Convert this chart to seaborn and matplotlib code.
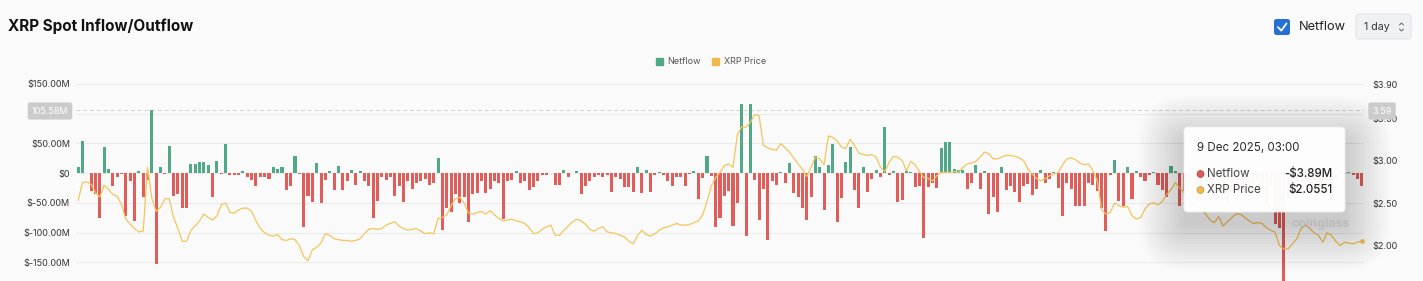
import numpy as np
import pandas as pd
import matplotlib
matplotlib.use("Agg")
import matplotlib.pyplot as plt
from matplotlib.patches import FancyBboxPatch, Patch, Circle
import seaborn as sns

# ---------------- data ----------------
netflow = [
    # 0-59
    9.6, 54, 1, -30, -35, -75, 44, 7, -21, -7, -2, -72, -14, -80, 3, -41, -12, 105.58, -153, 10,
    -2, 46, -38, -35, -58, -59, 16, 16, 18, 19, 14, -40, 20, -2, 49, -4, -3, -4, 3, -6,
    -12, -21, -6, -6, -10, 10, 7, 10, -29, -21, 28, -2, -90, -38, -48, 17, -51, -12, 4, -28,
    # 60-119
    12, -28, -14, 5, -20, 4, -14, -22, -75,
    -47, -6, -12, -6, -38, -21, -48, -14, -26, -17, -14, -10, -20, -16,
    26,
    -96, -58, -66, -35, -51, -41, -83, -35, -34, -14, -34, -26, -14, -17,
    -78,
    -14, -12, 3, -16, -14, -28, -24, -14, -4, -3, 0.5, -20, -20, 5, -6, 0, 3, -35, -21, -14, -6,
    # 120-155
    -3, -6, -3, -31, -6, -10, -24, -24, -31, 11, -34, 5, -31, -3, 2, -4, -14, -22, -6, -6,
    -21, -2, 3, -43, -8, 28, -5, -90, -76, -38, -30, -89, -51, 117, -106, 116,
    # 156-178
    -12, -79, -27, -112, -13, -20, 2, -17, 17, -34, -41, -58, -79, -41, 28, 11, -62, 13, 49, -83,
    -42, 19, 44,
    # 179-239
    -28, -59, 10, -31, -10, 6, -7, 77, -4, 4, -49, -46, 3, 2, -24, -22, -110, -23, -17, -25,
    42, 53, 53, 7, 6, 5, -27, -17, 13, -27, 3, -68, -40, -66, 10, -28, -22, -31, -48, -21,
    -19, -37, -27, 5, -16, -10, 2, -25, -72, -16, -27, -56, -56, -55, -17, -20, -30, -58, -97, -4,
    22,
    # 240-254
    -47, -55, 11, -44, 4, -6, -14, -3, 2, -20, -29, -40, 12, 3, -55,
    # 255-291 (mostly under the tooltip)
    -30, -12, 8, -45, -20, -8, -35, -15, 5, -25, -50, -18, -10, 6, -28, -40, -22, -12, -30, -55,
    -20, -85, -92, -210, -40, -15, -30, -8, 4, -20, -12, -35, -18, -6, -25, -10, 3,
    # 292-296
    -2, 2, -4, -10, -21,
]

price = [
    2.53, 2.74, 2.75, 2.72, 2.62, 2.57, 2.71, 2.66, 2.60, 2.58,
    2.48, 2.31, 2.25, 2.20, 2.16, 2.17, 2.92, 2.55, 2.40, 2.45,
    2.55, 2.55, 2.33, 2.20, 2.05, 2.05, 2.18, 2.23, 2.29, 2.37,
    2.33, 2.30, 2.35, 2.48, 2.50, 2.39, 2.38, 2.42, 2.44, 2.44,
    2.40, 2.29, 2.20, 2.15, 2.12, 2.11, 2.13, 2.07, 2.06, 2.08,
    2.07, 2.00, 1.87, 1.82, 1.95, 1.98, 2.03, 2.14, 2.12, 2.08,
    2.07, 2.06, 2.06, 2.05, 2.06, 2.08, 2.14, 2.19, 2.20, 2.19,
    2.20, 2.24, 2.26, 2.28, 2.23, 2.20, 2.18, 2.19, 2.20, 2.17,
    2.14, 2.15, 2.14, 2.32, 2.33, 2.36, 2.47, 2.55, 2.57, 2.50,
    2.38, 2.37, 2.39, 2.40, 2.37, 2.41, 2.36, 2.32, 2.29, 2.30,
    2.31, 2.29, 2.28, 2.26, 2.21, 2.14, 2.15, 2.19, 2.22, 2.24,
    2.12, 2.12, 2.18, 2.23, 2.28, 2.31, 2.29, 2.25, 2.19, 2.17,
    2.20, 2.22, 2.16, 2.15, 2.14, 2.12, 2.10, 2.05, 2.02, 2.12,
    2.18, 2.13, 2.11, 2.14, 2.18, 2.21, 2.22, 2.24, 2.26, 2.24,
    2.24, 2.25, 2.27, 2.29, 2.36, 2.52, 2.70, 2.80, 2.86, 2.94,
    2.96, 2.92, 3.30, 3.40, 3.39, 3.45, 3.54, 3.53, 3.18, 3.15,
    3.13, 3.12, 3.20, 3.15, 3.10, 3.03, 2.96, 2.90, 2.81, 2.92,
    3.04, 3.02, 2.95, 3.29, 3.27, 3.23, 3.16, 3.14, 3.25, 3.18,
    3.09, 3.07, 3.06, 3.07, 3.04, 2.92, 2.87, 2.98, 3.05, 3.04,
    3.00, 2.88, 2.99, 2.95, 2.87, 2.80, 2.79, 2.76, 2.82, 2.86,
    2.86, 2.86, 2.87, 2.86, 2.92, 2.96, 2.97, 2.99, 3.04, 3.10,
    3.08, 3.02, 3.02, 3.04, 3.06, 3.06, 3.05, 3.03, 3.00, 2.90,
    2.84, 2.79, 2.76, 2.79, 2.82, 2.84, 2.86, 2.95, 3.02, 3.03,
    3.01, 2.97, 2.95, 2.96, 2.88, 2.76, 2.42, 2.37, 2.39, 2.50,
    2.47, 2.45, 2.46, 2.35, 2.31, 2.33, 2.43, 2.49, 2.50, 2.48,
    2.52, 2.60, 2.66, 2.74, 2.68, 2.62, 2.55, 2.50, 2.46, 2.42,
    2.37, 2.30, 2.27, 2.34, 2.23, 2.28, 2.33, 2.37, 2.37, 2.33,
    2.29, 2.26, 2.27, 2.26, 2.21, 2.18, 2.16, 2.00, 1.96, 1.96,
    2.02, 2.08, 2.20, 2.24, 2.20, 2.15, 2.12, 2.04, 2.15, 2.12,
    2.05, 2.00, 2.04, 2.03, 2.02, 2.04, 2.05,
]

left_ticks = [-150, -100, -50, 0, 50, 100, 150]
# the $100.00M label sits under the crosshair badge in the reference, so it is left blank
left_labels = ["$-150.00M", "$-100.00M", "$-50.00M", "$0", "$50.00M", "", "$150.00M"]
right_ticks = [2.00, 2.50, 3.00, 3.50, 3.90]
right_labels = ["$2.00", "$2.50", "$3.00", "$3.50", "$3.90"]

crosshair_flow = 105.58
crosshair_price = 3.59
tooltip_date = "9 Dec 2025, 03:00"
tooltip_flow = "-$3.89M"
tooltip_price = "$2.0551"

# ---------------- style ----------------
GREEN = "#4fa886"
RED = "#e15d5a"
YELLOW = "#f3c55a"
YELLOW_LEG = "#efb94c"
BG = "#fafafa"

sns.set_style("white")
plt.rcParams["font.family"] = ["Inter", "DejaVu Sans"]

W, H = 1423, 281
fig = plt.figure(figsize=(W / 100, H / 100), dpi=100, facecolor=BG)

ax = fig.add_axes([76 / W, 0, 1288 / W, 197 / H])
ax.set_facecolor(BG)

df = pd.DataFrame({"day": np.arange(len(netflow)), "netflow": netflow, "price": price})
df["dir"] = np.where(df["netflow"] >= 0, "in", "out")

sns.barplot(data=df, x="day", y="netflow", hue="dir", palette={"in": GREEN, "out": RED},
            dodge=False, native_scale=True, width=0.7, errorbar=None, legend=False,
            saturation=1, linewidth=0, ax=ax)

ax.set_xlim(-0.5, len(netflow) - 0.5)
ax.set_ylim(-181.6, 150)
ax.set_yticks(left_ticks)
ax.set_yticklabels(left_labels)
ax.set_xticks([])
ax.set_xlabel("")
ax.set_ylabel("")
ax.tick_params(axis="y", length=0, pad=4.3, labelsize=6.5, labelcolor="#333333")
ax.grid(axis="y", color="#ebebeb", linewidth=0.8)
ax.grid(axis="x", visible=False)
ax.set_axisbelow(True)
for s in ax.spines.values():
    s.set_visible(False)

ax2 = ax.twinx()
sns.lineplot(data=df, x="day", y="price", color=YELLOW, linewidth=0.9, ax=ax2)
ax2.scatter([df["day"].iloc[-1]], [df["price"].iloc[-1]], s=6, color=YELLOW, zorder=5)
ax2.set_ylim(1.583, 3.90)
ax2.set_yticks(right_ticks)
ax2.set_yticklabels(right_labels)
ax2.set_xlabel("")
ax2.set_ylabel("")
ax2.tick_params(axis="y", length=0, pad=5.8, labelsize=6.5, labelcolor="#333333")
for s in ax2.spines.values():
    s.set_visible(False)

# crosshair
ax.axhline(crosshair_flow, color="#cfcfcf", linewidth=0.7, linestyle=(0, (4, 3)), zorder=0.5)
ax.axvline(len(netflow) - 0.6, color="#cfcfcf", linewidth=0.7, linestyle=(0, (4, 3)), zorder=0.5)

# legend
fig.legend(handles=[Patch(color=GREEN, label="Netflow"), Patch(color=YELLOW_LEG, label="XRP Price")],
           loc="center", bbox_to_anchor=(711 / W, 1 - 62 / H), ncol=2, frameon=False,
           fontsize=6.5, handlelength=0.75, handleheight=0.9, handletextpad=0.5,
           columnspacing=1.3, labelcolor="#555555")

# ---------------- overlay (UI decorations) ----------------
ov = fig.add_axes([0, 0, 1, 1])
ov.set_xlim(0, W)
ov.set_ylim(H, 0)
ov.axis("off")
ov.patch.set_alpha(0)
ov.set_zorder(10)

ov.text(8, 26, "XRP Spot Inflow/Outflow", fontsize=11, fontweight="bold", color="#111111",
        ha="left", va="center")

# checkbox
ov.add_patch(FancyBboxPatch((1274, 19), 16, 16, boxstyle="round,pad=0,rounding_size=2.5",
                            fc="#2470d4", ec="none"))
ov.plot([1278, 1281.3, 1286.5], [27.2, 30.6, 23.4], color="white", linewidth=1.3,
        solid_capstyle="round", solid_joinstyle="round")
ov.text(1299, 27, "Netflow", fontsize=9.2, color="#222222", ha="left", va="center")

# 1 day selector
ov.add_patch(FancyBboxPatch((1356, 14), 55, 25, boxstyle="round,pad=0,rounding_size=4",
                            fc="#f0f1f4", ec="#e3e5e9", linewidth=0.8))
ov.text(1364, 27, "1 day", fontsize=7.6, color="#333333", ha="left", va="center")
ov.plot([1399.5, 1401.5, 1403.5], [25, 23, 25], color="#666666", linewidth=0.7)
ov.plot([1399.5, 1401.5, 1403.5], [29, 31, 29], color="#666666", linewidth=0.7)

# crosshair badges
ov.text(50, 111, f"{crosshair_flow:.2f}M", fontsize=6.5, color="white", ha="center", va="center",
        bbox=dict(boxstyle="round,pad=0.45,rounding_size=0.25", fc="#cbcbcb", ec="none"))
ov.text(1382, 111, f"{crosshair_price:.2f}", fontsize=6.5, color="white", ha="center", va="center",
        bbox=dict(boxstyle="round,pad=0.45,rounding_size=0.25", fc="#cbcbcb", ec="none"))

# watermark
ov.text(1291, 224, "coinglass", fontsize=9, color="#b8b8b8", fontweight="bold",
        ha="left", va="center", alpha=0.85)

# tooltip shadow
tx0, ty0, tw, th = 1184, 127, 161, 85
for i in range(16):
    g = 3.0 * i
    ov.add_patch(FancyBboxPatch((tx0 - g, ty0 - g + 14), tw + 2 * g, th + 2 * g,
                                boxstyle="round,pad=0,rounding_size=%d" % (4 + g),
                                fc="black", ec="none", alpha=0.013))
ov.add_patch(FancyBboxPatch((tx0, ty0), tw, th, boxstyle="round,pad=0,rounding_size=4",
                            fc="white", ec="#eeeeee", linewidth=0.6, alpha=0.97))
ov.text(1197, 148, tooltip_date, fontsize=8.3, color="#2b2b2b", ha="left", va="center")
ov.add_patch(Circle((1200.5, 174), 3.4, fc=RED, ec="#b54542", linewidth=0.6))
ov.add_patch(Circle((1200.5, 190), 3.4, fc=YELLOW_LEG, ec="#c99a38", linewidth=0.6))
ov.text(1207, 174, "Netflow", fontsize=8.3, color="#444444", ha="left", va="center")
ov.text(1207, 190, "XRP Price", fontsize=8.3, color="#444444", ha="left", va="center")
ov.text(1332, 174, tooltip_flow, fontsize=8.3, color="#222222", ha="right", va="center", fontweight="medium")
ov.text(1332, 190, tooltip_price, fontsize=8.3, color="#222222", ha="right", va="center", fontweight="medium")

fig.savefig("out.png", dpi=100, facecolor=BG)
